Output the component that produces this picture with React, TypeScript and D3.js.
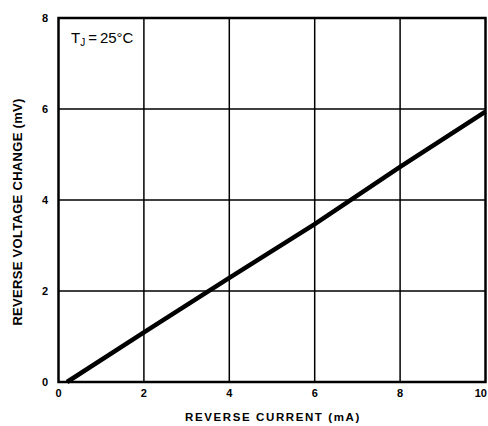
import * as d3 from 'd3';

const currentMA = [0.2, 2, 4, 6, 8, 10];
const voltageMV = [0, 1.09, 2.29, 3.47, 4.73, 5.94];
const xTicks = [0, 2, 4, 6, 8, 10];
const yTicks = [0, 2, 4, 6, 8];

export default function App() {
  const width = 488;
  const height = 426;
  const left = 58.5;
  const right = 485.5;
  const top = 18;
  const bottom = 382;

  const x = d3.scaleLinear().domain([0, 10]).range([left, right]);
  const y = d3.scaleLinear().domain([0, 8]).range([bottom, top]);

  const line = d3
    .line<number>()
    .x((d, i) => x(currentMA[i]))
    .y((d) => y(d));

  const font = '"Liberation Sans", Arial, sans-serif';

  return (
    <svg
      width={width}
      height={height}
      style={{ position: 'absolute', left: 0, top: 0, background: '#fff' }}
    >
      {/* grid */}
      {xTicks.slice(1, -1).map((t) => (
        <line key={'gx' + t} x1={x(t)} x2={x(t)} y1={top} y2={bottom} stroke="#000" strokeWidth={1.5} />
      ))}
      {yTicks.slice(1, -1).map((t) => (
        <line key={'gy' + t} x1={left} x2={right} y1={y(t)} y2={y(t)} stroke="#000" strokeWidth={1.5} />
      ))}
      <rect
        x={left}
        y={top}
        width={right - left}
        height={bottom - top}
        fill="none"
        stroke="#000"
        strokeWidth={2.5}
      />

      <path d={line(voltageMV) ?? ''} fill="none" stroke="#000" strokeWidth={4.5} />

      {/* tick labels */}
      {yTicks.map((t) => (
        <text
          key={'ty' + t}
          x={45}
          y={y(t)}
          dy="0.35em"
          textAnchor="middle"
          fontFamily={font}
          fontWeight="bold"
          fontSize={11}
        >
          {t}
        </text>
      ))}
      {xTicks.map((t, i) => {
        const last = i === xTicks.length - 1;
        return (
          <text
            key={'tx' + t}
            x={last ? 487 : x(t)}
            y={397}
            textAnchor={last ? 'end' : 'middle'}
            fontFamily={font}
            fontWeight="bold"
            fontSize={11}
          >
            {t}
          </text>
        );
      })}

      {/* titles */}
      <text
        x={273}
        y={421}
        textAnchor="middle"
        fontFamily={font}
        fontWeight="bold"
        fontSize={11.5}
        letterSpacing={1.6}
      >
        REVERSE CURRENT (mA)
      </text>
      <text
        transform={`translate(22, ${(top + bottom) / 2 + 12}) rotate(-90)`}
        textAnchor="middle"
        fontFamily={font}
        fontWeight="bold"
        fontSize={13}
        letterSpacing={0.3}
      >
        REVERSE VOLTAGE CHANGE (mV)
      </text>

      <text x={71} y={43} fontFamily={font} fontSize={15}>
        T
        <tspan fontSize={10} dy={3}>J</tspan>
        <tspan dy={-3}>{'\u2009=\u200925°C'}</tspan>
      </text>
    </svg>
  );
}
